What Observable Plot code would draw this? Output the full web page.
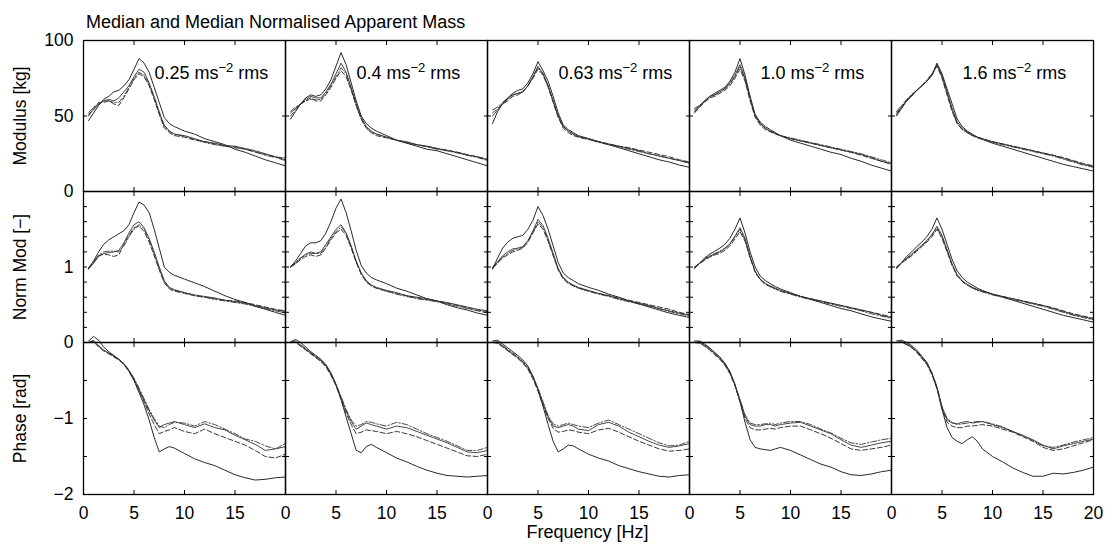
<!DOCTYPE html>
<html><head><meta charset="utf-8">
<script src="https://cdn.jsdelivr.net/npm/d3@7"></script>
<script src="https://cdn.jsdelivr.net/npm/@observablehq/plot@0.6"></script>
<style>
body{margin:0;background:#fff;font-family:"Liberation Sans",Arial,sans-serif;}
#chart{position:relative;width:1109px;height:556px;overflow:hidden;background:#fff;}
#chart svg{overflow:visible;position:absolute;left:0;}
.title{position:absolute;left:86px;top:13px;font-size:18px;line-height:1;white-space:nowrap;}
.xlabel{position:absolute;left:82px;width:1011px;text-align:center;top:523px;font-size:18px;line-height:1;}
</style></head>
<body><div id="chart"><div class="title">Median and Median Normalised Apparent Mass</div><div class="xlabel">Frequency [Hz]</div></div>
<script>
const freq = [0.5,1,1.5,2,2.5,3,3.5,4,4.5,5,5.5,6,6.5,7,7.5,8,8.5,9,10,11,12,13,14,15,16,17,18,19,20];
const levels = ["0.25","0.4","0.63","1.0","1.6"];
const seriesNames = ["A","B","C","D"];
const xTicks = [0,5,10,15,20];
const modTicks = [0,50,100];
const modLabels = [0,50,100];
const normTicks = [0,0.2,0.4,0.6,0.8,1,1.2,1.4,1.6,1.8,2];
const normLabels = [0,1];
const phaseTicks = [-2,-1.5,-1,-0.5,0];
const phaseLabels = [-1,-2];

// ---- Modulus [kg]
const mod025A = [47,52,57,61,63,66,67,70,74,81,88,85,79,69,59,49,45,43,40,38,35,33,31,28,26,23.5,21,19,17];
const mod025B = [51,54,58,60,61,60,62,66,70,76,81,79,72,62,52,44,40,38,37,35,33,32,30.5,30,28.5,27,25,23,22];
const mod025C = [50,55,59,59,60,58,57,62,68,74,78,76,70,61,51,42,39,37,36,34,33,31.5,30,29.5,28,26,24.5,23,21];
const mod025D = [52,56,58,60,60,59,59,63,69,75,79,77,71,63,53,43,40,38,36.5,34.5,32.5,31,30,29,28,26.5,24,22.5,20.5];
const mod04A = [48,53,58,62,64,63,64,68,74,83,92,84,72,60,50,45,42,40,37,34,32,30,28,27,25,23,21,19,17];
const mod04B = [52,55,58,61,63,62,62,66,71,78,85,79,69,58,49,43,40,38,36,34,33,31,30,28.5,27,26,24,23,21];
const mod04C = [50,54,58,60,62,60,60,64,69,75,80,76,67,57,48,42,39,37,35.5,34,32.5,31,30,28.5,27.5,26,24.5,23,21.5];
const mod04D = [53,56,58,60,61,61,61,65,70,76,82,78,68,57,48,42,39,38,36,34,32,31,29.5,28,27,25.5,24,22.5,20.5];
const mod063A = [45,53,58,62,65,67,68,72,78,86,80,73,63,52,44,41,39,37,35,33,31,29,27,25,23,21,19.5,17.5,16];
const mod063B = [50,54,58,61,64,65,66,70,76,83,78,70,60,50,43,40,38,36.5,35,33,31.5,30,28.5,27,25,23.5,22,20.5,19];
const mod063C = [52,55,58,60,63,64,66,70,75,81,77,69,59,49,42,39,37,36,34.5,33,31.5,30,29,27.5,26,24.5,23,21,19.5];
const mod063D = [54,56,59,62,64,65,66,70,76,82,78,70,60,50,43,40,38,36,34.5,32.5,31,29.5,28,26.5,25,23.5,22,20.5,18.5];
const mod10A = [53,56,60,63,65,67,69,73,79,88,77,63,51,46,43,41,39,37,34,32,30,28,26,24.5,22,20,17.5,15.5,13.5];
const mod10B = [55,57,60,63,64,66,68,72,77,84,75,62,50,45,42,40,38.5,37,35,33.5,32,30.5,29,27.5,26,24.5,22.5,20,18.5];
const mod10C = [52,56,59,62,63,65,67,70,75,81,73,60,49,44,41,39.5,38,37,35,33.5,32,30.5,29,27.5,26,24,22,20,18];
const mod10D = [54,57,60,62,64,66,68,71,76,83,74,61,50,45,42,40,38.5,37,35.5,34,32.5,31,29.5,28,26.5,25,23,21,19];
const mod16A = [50,55,60,64,67,70,73,77,85,78,68,58,48,43,40,38,36,34.5,32,30,28,26,24,22,20,18,16.5,15,13.5];
const mod16B = [52,56,60,63,67,70,73,77,84,77,66,55,46,42,39.5,37.5,36,35,33,31.5,30,28.5,27,25.5,24,22,20,18,16.5];
const mod16C = [51,56,60,64,67,70,73,77,83,75,64,53,45,41,39,37,36,35,33,31.5,30,28.5,27,25.5,24,22.5,20.5,18.5,17];
const mod16D = [53,57,61,64,67,70,74,78,84,76,65,54,45,41,39,37,35.5,34.5,32.5,31,29.5,28,26.5,25,23.5,21.5,19.5,17.5,16];

// ---- Normalised modulus [-]
const norm025A = [0.98,1.08,1.2,1.3,1.36,1.4,1.44,1.48,1.56,1.72,1.86,1.82,1.72,1.5,1.25,1.0,0.93,0.89,0.84,0.79,0.74,0.68,0.62,0.57,0.53,0.48,0.44,0.4,0.36];
const norm025B = [0.98,1.05,1.14,1.18,1.19,1.2,1.22,1.32,1.45,1.56,1.6,1.52,1.38,1.2,1.0,0.82,0.73,0.7,0.66,0.63,0.61,0.59,0.56,0.54,0.52,0.49,0.46,0.43,0.41];
const norm025C = [0.99,1.07,1.15,1.17,1.16,1.14,1.16,1.3,1.42,1.52,1.54,1.47,1.33,1.15,0.96,0.79,0.71,0.68,0.65,0.62,0.6,0.58,0.56,0.55,0.53,0.5,0.47,0.44,0.42];
const norm025D = [0.97,1.06,1.16,1.2,1.21,1.21,1.2,1.28,1.4,1.5,1.56,1.5,1.36,1.18,0.98,0.8,0.72,0.69,0.66,0.62,0.6,0.57,0.55,0.53,0.51,0.48,0.45,0.42,0.39];
const norm04A = [1.0,1.08,1.18,1.28,1.32,1.32,1.35,1.45,1.6,1.78,1.9,1.72,1.48,1.22,1.02,0.92,0.86,0.83,0.78,0.72,0.68,0.63,0.58,0.55,0.5,0.46,0.43,0.39,0.36];
const norm04B = [1.0,1.05,1.12,1.17,1.2,1.18,1.2,1.3,1.4,1.5,1.56,1.45,1.28,1.08,0.92,0.82,0.76,0.73,0.69,0.66,0.62,0.6,0.58,0.55,0.53,0.5,0.47,0.44,0.42];
const norm04C = [1.0,1.04,1.1,1.14,1.16,1.14,1.16,1.25,1.36,1.45,1.5,1.42,1.25,1.06,0.9,0.8,0.75,0.72,0.68,0.65,0.62,0.59,0.57,0.55,0.52,0.49,0.46,0.43,0.41];
const norm04D = [1.0,1.06,1.12,1.16,1.18,1.18,1.18,1.27,1.38,1.47,1.53,1.45,1.27,1.07,0.91,0.81,0.75,0.72,0.68,0.64,0.61,0.58,0.56,0.54,0.51,0.48,0.45,0.42,0.39];
const norm063A = [0.97,1.12,1.25,1.33,1.38,1.4,1.42,1.5,1.62,1.8,1.68,1.5,1.28,1.06,0.92,0.86,0.82,0.78,0.73,0.69,0.64,0.6,0.55,0.51,0.47,0.43,0.39,0.36,0.33];
const norm063B = [0.99,1.07,1.15,1.2,1.24,1.25,1.27,1.35,1.48,1.63,1.55,1.38,1.18,0.98,0.86,0.8,0.76,0.73,0.69,0.65,0.62,0.58,0.55,0.52,0.49,0.45,0.42,0.39,0.36];
const norm063C = [1.0,1.06,1.12,1.16,1.2,1.22,1.25,1.33,1.45,1.57,1.5,1.34,1.15,0.96,0.84,0.78,0.75,0.72,0.68,0.65,0.62,0.59,0.56,0.53,0.5,0.47,0.44,0.4,0.37];
const norm063D = [0.98,1.05,1.13,1.18,1.22,1.24,1.26,1.34,1.46,1.6,1.52,1.36,1.16,0.97,0.85,0.79,0.75,0.72,0.68,0.64,0.61,0.57,0.54,0.51,0.48,0.45,0.41,0.38,0.35];
const norm10A = [0.98,1.05,1.12,1.17,1.21,1.25,1.3,1.38,1.5,1.65,1.45,1.2,1.0,0.88,0.82,0.78,0.74,0.71,0.66,0.61,0.57,0.53,0.49,0.45,0.42,0.38,0.34,0.31,0.28];
const norm10B = [1.0,1.05,1.1,1.14,1.17,1.2,1.24,1.31,1.41,1.52,1.38,1.14,0.94,0.84,0.78,0.75,0.72,0.69,0.65,0.61,0.58,0.55,0.52,0.49,0.46,0.43,0.4,0.36,0.33];
const norm10C = [1.0,1.04,1.09,1.13,1.16,1.18,1.22,1.28,1.37,1.47,1.34,1.12,0.93,0.83,0.77,0.74,0.71,0.68,0.65,0.61,0.58,0.55,0.52,0.49,0.46,0.43,0.4,0.37,0.34];
const norm10D = [0.99,1.05,1.11,1.15,1.18,1.21,1.25,1.3,1.4,1.5,1.36,1.13,0.94,0.84,0.78,0.74,0.71,0.68,0.64,0.6,0.57,0.54,0.51,0.48,0.45,0.42,0.38,0.35,0.32];
const norm16A = [0.98,1.06,1.14,1.2,1.27,1.33,1.4,1.5,1.65,1.5,1.3,1.1,0.95,0.86,0.8,0.76,0.72,0.69,0.64,0.6,0.56,0.52,0.48,0.44,0.4,0.36,0.33,0.3,0.27];
const norm16B = [1.0,1.06,1.12,1.17,1.23,1.29,1.35,1.43,1.54,1.42,1.23,1.04,0.9,0.82,0.77,0.73,0.7,0.68,0.64,0.61,0.58,0.55,0.52,0.49,0.45,0.41,0.37,0.34,0.31];
const norm16C = [1.0,1.05,1.1,1.15,1.21,1.27,1.33,1.4,1.5,1.38,1.2,1.02,0.88,0.81,0.76,0.73,0.7,0.68,0.64,0.61,0.58,0.55,0.52,0.49,0.46,0.42,0.38,0.35,0.32];
const norm16D = [0.99,1.06,1.11,1.16,1.22,1.28,1.34,1.42,1.52,1.4,1.22,1.03,0.89,0.81,0.76,0.72,0.69,0.67,0.63,0.6,0.57,0.54,0.51,0.48,0.44,0.4,0.36,0.33,0.3];

// ---- Phase [rad]
const ph025A = [0.02,0.08,0.03,-0.06,-0.12,-0.17,-0.22,-0.28,-0.38,-0.5,-0.66,-0.82,-1.02,-1.25,-1.44,-1.4,-1.37,-1.39,-1.46,-1.53,-1.58,-1.62,-1.68,-1.74,-1.78,-1.81,-1.8,-1.78,-1.77];
const ph025B = [0.0,0.02,-0.05,-0.1,-0.14,-0.18,-0.22,-0.28,-0.37,-0.48,-0.62,-0.76,-0.9,-1.02,-1.12,-1.08,-1.06,-1.04,-1.08,-1.12,-1.07,-1.12,-1.15,-1.22,-1.28,-1.34,-1.42,-1.4,-1.37];
const ph025C = [0.0,0.01,-0.06,-0.11,-0.15,-0.19,-0.23,-0.29,-0.38,-0.49,-0.63,-0.78,-0.94,-1.08,-1.2,-1.17,-1.15,-1.12,-1.17,-1.2,-1.14,-1.2,-1.25,-1.3,-1.35,-1.42,-1.5,-1.52,-1.47];
const ph025D = [0.0,0.03,-0.04,-0.1,-0.14,-0.18,-0.22,-0.28,-0.36,-0.47,-0.6,-0.74,-0.88,-1.0,-1.1,-1.12,-1.08,-1.05,-1.06,-1.1,-1.04,-1.08,-1.14,-1.2,-1.27,-1.3,-1.36,-1.4,-1.33];
const ph04A = [0.01,0.04,0.0,-0.06,-0.12,-0.17,-0.22,-0.29,-0.4,-0.55,-0.75,-0.98,-1.2,-1.42,-1.45,-1.37,-1.34,-1.38,-1.45,-1.52,-1.57,-1.63,-1.68,-1.72,-1.75,-1.76,-1.77,-1.76,-1.75];
const ph04B = [0.0,0.01,-0.04,-0.09,-0.14,-0.19,-0.24,-0.31,-0.42,-0.56,-0.73,-0.9,-1.04,-1.14,-1.1,-1.06,-1.08,-1.1,-1.14,-1.1,-1.12,-1.17,-1.22,-1.27,-1.32,-1.38,-1.44,-1.45,-1.42];
const ph04C = [0.0,0.0,-0.05,-0.1,-0.15,-0.2,-0.25,-0.32,-0.43,-0.57,-0.75,-0.93,-1.08,-1.2,-1.18,-1.15,-1.16,-1.17,-1.2,-1.17,-1.2,-1.24,-1.29,-1.34,-1.39,-1.44,-1.49,-1.5,-1.47];
const ph04D = [0.0,0.02,-0.03,-0.08,-0.13,-0.18,-0.23,-0.3,-0.41,-0.55,-0.71,-0.88,-1.02,-1.1,-1.08,-1.04,-1.05,-1.07,-1.1,-1.05,-1.08,-1.14,-1.2,-1.25,-1.3,-1.36,-1.42,-1.42,-1.38];
const ph063A = [0.02,0.03,-0.02,-0.07,-0.12,-0.17,-0.23,-0.31,-0.44,-0.62,-0.84,-1.08,-1.3,-1.44,-1.4,-1.35,-1.36,-1.4,-1.47,-1.52,-1.56,-1.62,-1.66,-1.7,-1.73,-1.76,-1.77,-1.75,-1.74];
const ph063B = [0.0,0.0,-0.05,-0.1,-0.15,-0.2,-0.26,-0.34,-0.46,-0.62,-0.8,-0.98,-1.1,-1.12,-1.1,-1.08,-1.1,-1.14,-1.16,-1.08,-1.05,-1.1,-1.18,-1.24,-1.3,-1.35,-1.38,-1.36,-1.33];
const ph063C = [0.0,-0.01,-0.06,-0.11,-0.16,-0.21,-0.27,-0.35,-0.48,-0.64,-0.83,-1.0,-1.13,-1.18,-1.17,-1.15,-1.16,-1.18,-1.2,-1.15,-1.13,-1.18,-1.24,-1.3,-1.35,-1.4,-1.43,-1.42,-1.4];
const ph063D = [0.0,0.01,-0.04,-0.09,-0.14,-0.19,-0.25,-0.33,-0.45,-0.6,-0.78,-0.96,-1.07,-1.1,-1.08,-1.06,-1.08,-1.1,-1.12,-1.06,-1.02,-1.08,-1.14,-1.2,-1.26,-1.32,-1.36,-1.35,-1.3];
const ph10A = [0.02,0.02,-0.02,-0.07,-0.13,-0.19,-0.27,-0.38,-0.55,-0.78,-1.05,-1.28,-1.38,-1.4,-1.41,-1.42,-1.4,-1.38,-1.42,-1.48,-1.54,-1.6,-1.64,-1.7,-1.74,-1.75,-1.73,-1.7,-1.68];
const ph10B = [0.0,0.0,-0.04,-0.09,-0.15,-0.21,-0.29,-0.4,-0.56,-0.76,-0.97,-1.08,-1.1,-1.1,-1.08,-1.08,-1.1,-1.08,-1.06,-1.05,-1.1,-1.15,-1.2,-1.28,-1.35,-1.38,-1.35,-1.32,-1.3];
const ph10C = [0.0,-0.01,-0.05,-0.1,-0.16,-0.22,-0.3,-0.41,-0.57,-0.78,-1.0,-1.12,-1.15,-1.15,-1.14,-1.13,-1.14,-1.12,-1.1,-1.1,-1.15,-1.2,-1.26,-1.33,-1.4,-1.42,-1.4,-1.38,-1.35];
const ph10D = [0.0,0.01,-0.03,-0.08,-0.14,-0.2,-0.28,-0.39,-0.55,-0.75,-0.95,-1.06,-1.08,-1.08,-1.07,-1.06,-1.08,-1.06,-1.04,-1.04,-1.08,-1.14,-1.19,-1.26,-1.32,-1.34,-1.31,-1.28,-1.26];
const ph16A = [0.02,0.03,0.0,-0.04,-0.1,-0.18,-0.26,-0.4,-0.59,-0.88,-1.12,-1.25,-1.3,-1.33,-1.28,-1.24,-1.3,-1.4,-1.5,-1.57,-1.65,-1.71,-1.76,-1.76,-1.72,-1.73,-1.71,-1.68,-1.64];
const ph16B = [0.0,0.01,-0.02,-0.06,-0.12,-0.2,-0.28,-0.41,-0.6,-0.85,-1.02,-1.06,-1.07,-1.05,-1.04,-1.06,-1.05,-1.04,-1.08,-1.12,-1.17,-1.22,-1.28,-1.35,-1.4,-1.36,-1.33,-1.3,-1.27];
const ph16C = [0.0,0.0,-0.03,-0.07,-0.13,-0.21,-0.29,-0.42,-0.61,-0.87,-1.05,-1.1,-1.12,-1.12,-1.1,-1.1,-1.09,-1.08,-1.1,-1.14,-1.18,-1.24,-1.3,-1.38,-1.42,-1.4,-1.36,-1.32,-1.28];
const ph16D = [0.0,0.01,-0.02,-0.06,-0.12,-0.19,-0.27,-0.4,-0.58,-0.84,-1.0,-1.05,-1.08,-1.07,-1.06,-1.05,-1.04,-1.04,-1.07,-1.11,-1.17,-1.23,-1.29,-1.36,-1.38,-1.35,-1.31,-1.28,-1.25];

// ---- assemble tidy tables from the named arrays
const modulusSets = [[mod025A,mod025B,mod025C,mod025D],[mod04A,mod04B,mod04C,mod04D],[mod063A,mod063B,mod063C,mod063D],[mod10A,mod10B,mod10C,mod10D],[mod16A,mod16B,mod16C,mod16D]];
const normSets = [[norm025A,norm025B,norm025C,norm025D],[norm04A,norm04B,norm04C,norm04D],[norm063A,norm063B,norm063C,norm063D],[norm10A,norm10B,norm10C,norm10D],[norm16A,norm16B,norm16C,norm16D]];
const phaseSets = [[ph025A,ph025B,ph025C,ph025D],[ph04A,ph04B,ph04C,ph04D],[ph063A,ph063B,ph063C,ph063D],[ph10A,ph10B,ph10C,ph10D],[ph16A,ph16B,ph16C,ph16D]];

function tidy(sets) {
  const rows = [];
  sets.forEach((panel, i) => panel.forEach((arr, j) => arr.forEach((v, k) =>
    rows.push({level: levels[i], series: seriesNames[j], f: freq[k], v}))));
  return rows;
}

const seriesStyles = [
  {name: "A", stroke: "#111", dash: null},
  {name: "B", stroke: "#333", dash: null},
  {name: "C", stroke: "#222", dash: "5,2.5"},
  {name: "D", stroke: "#333", dash: "6,2,1.5,2"}
];

const fmtTick = d => (d < 0 ? "\u2212" : "") + Math.abs(d);

const xTickLabels = levels.flatMap((lev, i) =>
  (i === levels.length - 1 ? xTicks : xTicks.slice(0, -1)).map(t => ({level: lev, t})));

const chart = document.getElementById("chart");

function makeRow({sets, domain, ticks, labels, label, top, height, marginBottom, annotate, xLabels}) {
  const rows = tidy(sets);
  const marks = [];
  for (const s of seriesStyles) {
    marks.push(Plot.line(rows.filter(r => r.series === s.name), {
      x: "f", y: "v", fx: "level", stroke: s.stroke, strokeWidth: 0.9,
      strokeDasharray: s.dash
    }));
  }
  marks.push(Plot.frame({stroke: "#000", strokeWidth: 1.3}));
  const tickOpts = {tickSize: -4, tickFormat: () => "", label: null, facetAnchor: null, strokeWidth: 1};
  marks.push(Plot.axisY(ticks, {anchor: "left", ...tickOpts}));
  marks.push(Plot.axisY(ticks, {anchor: "right", ...tickOpts}));
  marks.push(Plot.axisX(xTicks, {anchor: "top", ...tickOpts}));
  marks.push(Plot.axisX(xTicks, {anchor: "bottom", ...tickOpts}));
  marks.push(Plot.axisY(labels, {
    anchor: "left", tickSize: 0, tickPadding: 10, fontSize: 17.5, tickFormat: fmtTick,
    label, labelAnchor: "center", labelOffset: 70, labelArrow: "none"
  }));
  if (annotate) {
    marks.push(Plot.text(levels, {
      fx: d => d, text: d => d + " ms⁻² rms", frameAnchor: "top-left",
      dx: 71, dy: 38, lineAnchor: "bottom", textAnchor: "start", fontSize: 18, fill: "#000"
    }));
  }
  if (xLabels) {
    marks.push(Plot.text(xTickLabels, {
      x: "t", fx: "level", text: d => String(d.t), frameAnchor: "bottom",
      dy: 24, lineAnchor: "bottom", fontSize: 17.5, fill: "#000"
    }));
  }
  const svg = Plot.plot({
    width: 1109, height, marginLeft: 82, marginRight: 16, marginTop: 0, marginBottom,
    style: {fontFamily: "Liberation Sans, Arial, sans-serif", fontSize: "17.5px", background: "transparent", overflow: "visible", color: "#000"},
    x: {domain: [0, 20]},
    y: {domain, nice: false},
    fx: {domain: levels, padding: 0, axis: null},
    marks
  });
  svg.style.top = top + "px";
  chart.appendChild(svg);
  // superscripts for the annotation texts
  svg.querySelectorAll("text").forEach(t => {
    const m = t.textContent.match(/^(.*) ms⁻² rms$/);
    if (!m) return;
    t.textContent = "";
    const ns = "http://www.w3.org/2000/svg";
    const a = document.createElementNS(ns, "tspan"); a.textContent = m[1] + " ms";
    const b = document.createElementNS(ns, "tspan"); b.textContent = "−2";
    b.setAttribute("dy", "-7"); b.setAttribute("font-size", "13");
    const c = document.createElementNS(ns, "tspan"); c.textContent = " rms"; c.setAttribute("dy", "7");
    t.append(a, b, c);
  });
}

makeRow({sets: modulusSets, domain: [0, 100], ticks: modTicks, labels: modLabels, label: "Modulus [kg]", top: 40, height: 151, marginBottom: 0, annotate: true});
makeRow({sets: normSets, domain: [0, 2], ticks: normTicks, labels: normLabels, label: "Norm Mod [−]", top: 191, height: 151, marginBottom: 0});
makeRow({sets: phaseSets, domain: [-2, 0], ticks: phaseTicks, labels: phaseLabels, label: "Phase [rad]", top: 342, height: 212, marginBottom: 60, xLabels: true});
</script>
</body></html>
